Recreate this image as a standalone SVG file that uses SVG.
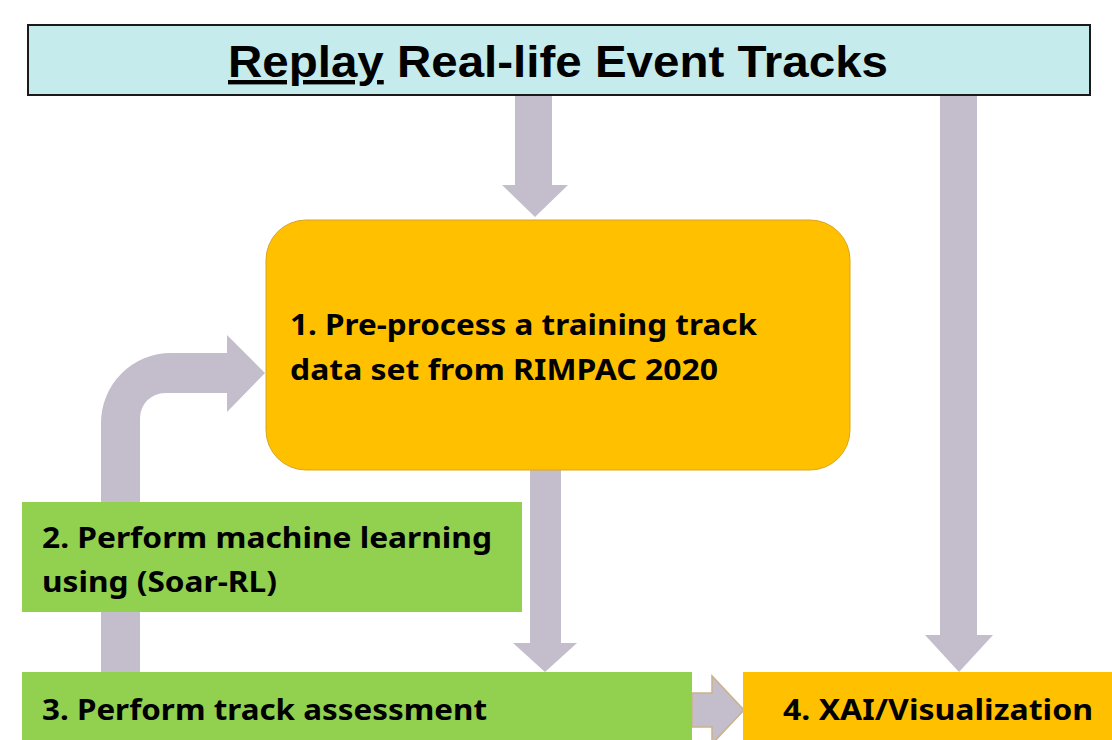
<svg xmlns="http://www.w3.org/2000/svg" width="1112" height="740" viewBox="0 0 1112 740">
  <style>
    .arrow { fill: #c4bdcb; }
    .title { font-family: "Liberation Sans", Arial, sans-serif; font-weight: bold; font-size: 44px; fill: #000; }
    .label { font-family: "Noto Sans", "Open Sans", sans-serif; font-weight: bold; font-size: 29px; fill: #000; }
    .orange { fill: #ffc000; }
    .green { fill: #92d050; }
  </style>
  <rect width="1112" height="740" fill="#ffffff"/>

  <!-- connectors drawn first so the boxes sit on top of them -->
  <g id="connectors">
    <!-- title to step 1 -->
    <polygon class="arrow" points="515,95 552,95 552,185 568,185 535,217 502,185 515,185"/>
    <!-- title to step 4 -->
    <polygon class="arrow" points="940,95 977,95 977,635 993,635 959,672 925,635 940,635"/>
    <!-- step 1 to step 3 -->
    <polygon class="arrow" points="530,470 561,470 561,643 577,643 545,672 513,643 530,643"/>
    <!-- feedback loop from step 3 back to step 1 -->
    <path class="arrow" d="M101,690 L101,423 A70,70 0 0 1 171,353 L227,353 L227,335 L265,373 L227,412 L227,393 L165,393 A25,25 0 0 0 140,418 L140,690 Z"/>
    <!-- step 3 to step 4 -->
    <polygon class="arrow" points="692,693 712,693 712,676 744,710 712,744 712,727 692,727" stroke="#c9b28a" stroke-width="1.5"/>
  </g>

  <g id="title">
    <rect x="28" y="25" width="1062" height="70" fill="#c5ebec" stroke="#1a1a1a" stroke-width="2"/>
    <text class="title" x="228" y="77" textLength="660" lengthAdjust="spacingAndGlyphs"><tspan text-decoration="underline">Replay</tspan> Real-life Event Tracks</text>
  </g>

  <g id="step1">
    <rect class="orange" x="266" y="220" width="584" height="250" rx="40" ry="40" stroke="#d9a520" stroke-width="1"/>
    <text class="label" x="290" y="335" textLength="467" lengthAdjust="spacingAndGlyphs">1. Pre-process a training track</text>
    <text class="label" x="290" y="380" textLength="428" lengthAdjust="spacingAndGlyphs">data set from RIMPAC 2020</text>
  </g>

  <g id="step2">
    <rect class="green" x="22" y="502" width="500" height="110"/>
    <text class="label" x="42" y="548" textLength="450" lengthAdjust="spacingAndGlyphs">2. Perform machine learning</text>
    <text class="label" x="42" y="592" textLength="235" lengthAdjust="spacingAndGlyphs">using (Soar-RL)</text>
  </g>

  <g id="step3">
    <rect class="green" x="22" y="672" width="670" height="80"/>
    <text class="label" x="42" y="720" textLength="445" lengthAdjust="spacingAndGlyphs">3. Perform track assessment</text>
  </g>

  <g id="step4">
    <rect class="orange" x="743" y="672" width="380" height="80"/>
    <text class="label" x="783" y="720" textLength="310" lengthAdjust="spacingAndGlyphs">4. XAI/Visualization</text>
  </g>
</svg>
